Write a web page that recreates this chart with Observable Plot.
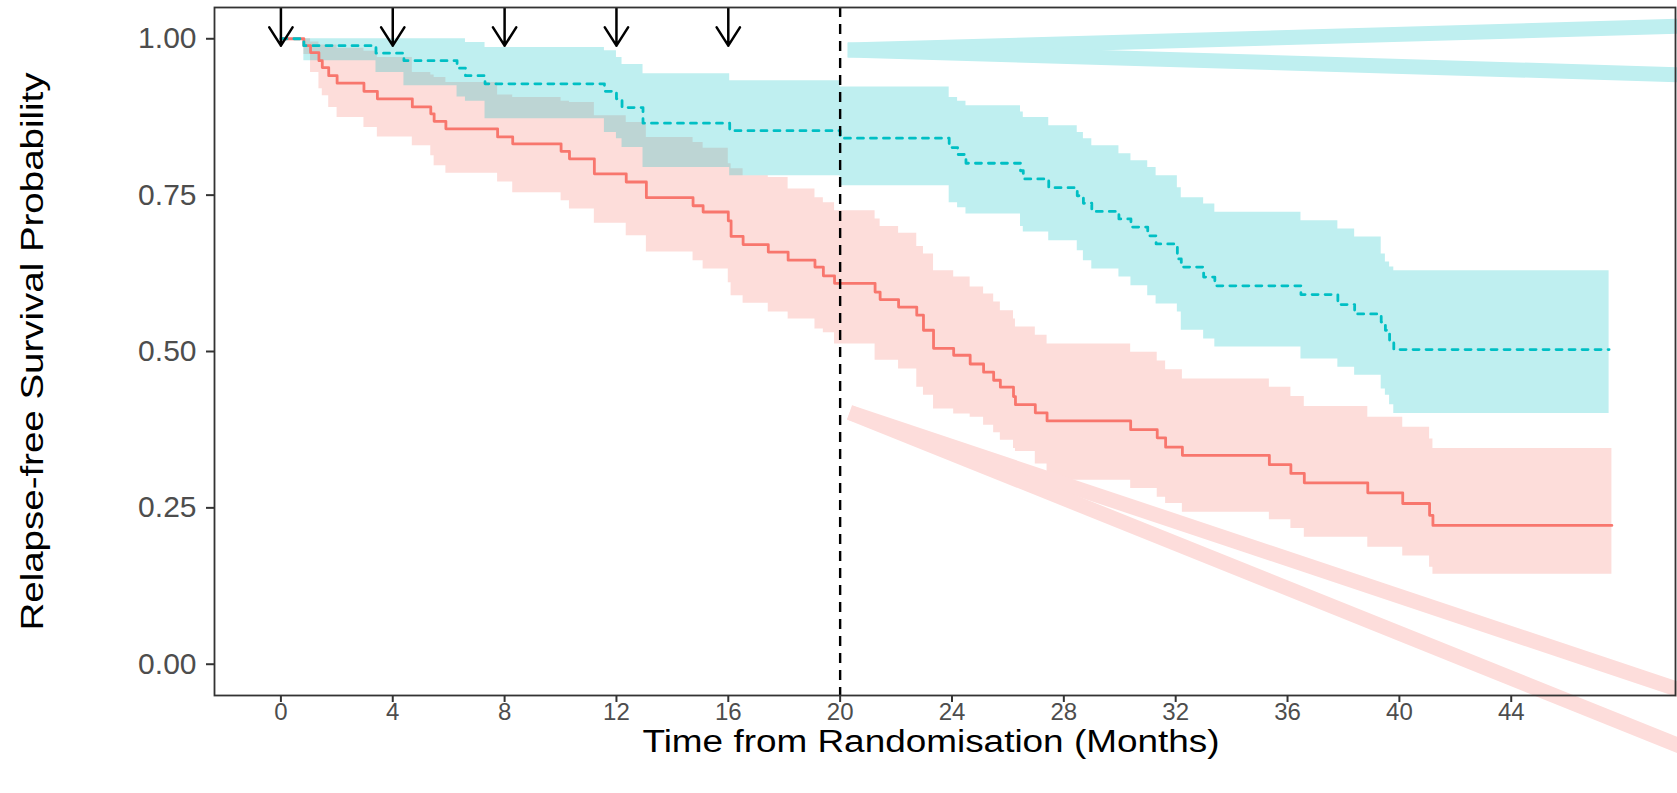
<!DOCTYPE html>
<html>
<head>
<meta charset="utf-8">
<script src="https://cdn.jsdelivr.net/npm/d3@7"></script>
<script src="https://cdn.jsdelivr.net/npm/@observablehq/plot@0.6"></script>
<style>
  html, body { margin: 0; padding: 0; background: #ffffff; }
  #chart { width: 1677px; height: 793px; overflow: hidden; }
</style>
</head>
<body>
<div id="chart"></div>
<script>
// ---- Group 1 (red, solid) : Kaplan–Meier steps and confidence band ----
const redTime  = [0, 0.82, 1.06, 1.36, 1.48, 1.71, 2.01, 2.97, 3.45, 4.70,
                  5.36, 5.48, 5.90, 7.75, 8.29, 10.02, 10.32, 11.21, 12.35, 13.07,
                  14.74, 15.10, 16.00, 16.10, 16.53, 17.43, 18.14, 19.10, 19.40, 19.80,
                  21.25, 21.43, 22.09, 22.74, 22.98, 23.34, 24.06, 24.65, 25.13, 25.49,
                  25.73, 26.20, 26.27, 26.98, 27.40, 30.39, 31.34, 31.64, 32.24, 35.35,
                  36.12, 36.60, 38.87, 40.12, 41.08, 41.20, 47.60];
const redSurv  = [1, .989, .978, .965, .954, .941, .929, .916, .904, .891,
                  .880, .868, .856, .843, .832, .820, .808, .784, .771, .746,
                  .733, .723, .709, .684, .671, .659, .646, .635, .621, .609,
                  .595, .583, .571, .558, .534, .505, .494, .480, .467, .454,
                  .443, .428, .415, .402, .389, .375, .362, .347, .334, .319,
                  .305, .290, .274, .257, .238, .222, .222];
const redLower = [1, .975, .946, .920, .909, .890, .874, .858, .843, .829,
                  .813, .797, .785, .771, .754, .741, .728, .705, .685, .659,
                  .645, .632, .610, .589, .577, .563, .552, .536, .530, .512,
                  .486, .486, .472, .443, .430, .408, .400, .395, .382, .370,
                  .358, .345, .340, .320, .294, .281, .267, .257, .243, .231,
                  .217, .203, .187, .173, .155, .144, .144];
const redUpper = [1, 1, .995, .99, .99, .99, .985, .98, .97, .946,
                  .942, .938, .93, .91, .906, .90, .898, .877, .866, .842,
                  .834, .825, .80, .792, .781, .778, .760, .746, .738, .725,
                  .712, .700, .689, .668, .656, .629, .619, .603, .592, .579,
                  .565, .552, .539, .526, .512, .499, .485, .471, .456, .443,
                  .428, .412, .395, .379, .36, .345, .345];

// ---- Group 2 (cyan, dashed) ----
const cyanTime  = [0, 0.82, 3.40, 4.40, 6.30, 6.60, 7.30, 11.57, 12.00, 12.20,
                   12.95, 16.05, 20.00, 23.90, 24.20, 24.50, 26.45, 26.55, 27.46, 28.48,
                   28.70, 29.00, 29.97, 30.40, 31.00, 31.30, 32.06, 32.20, 33.00, 33.40,
                   36.48, 37.80, 38.40, 39.35, 39.50, 39.65, 39.80, 47.50];
const cyanSurv  = [1, .989, .977, .965, .953, .941, .928, .916, .904, .890,
                   .865, .853, .841, .826, .815, .801, .789, .776, .762, .749,
                   .737, .724, .712, .699, .685, .672, .648, .635, .619, .605,
                   .591, .575, .560, .547, .534, .518, .503, .503];
const cyanLower = [1, .965, .946, .925, .907, .90, .872, .85, .84, .826,
                   .794, .781, .765, .738, .730, .720, .700, .691, .677, .661,
                   .645, .632, .619, .605, .589, .576, .563, .534, .520, .507,
                   .488, .475, .462, .44, .43, .415, .401, .401];
const cyanUpper = [1, 1, 1, 1, 1, .994, .986, .981, .970, .959,
                   .944, .933, .923, .906, .90, .893, .883, .874, .861, .850,
                   .840, .829, .816, .805, .794, .781, .762, .746, .736, .7226,
                   .709, .696, .683, .656, .643, .635, .629, .629];

// ---- Annotations ----
const arrowMonths = [0, 4, 8, 12, 16];
const landmarkMonth = [20];
const xTicks = [0, 4, 8, 12, 16, 20, 24, 28, 32, 36, 40, 44];
const yTicks = [0, 0.25, 0.5, 0.75, 1];
const xLabel = "Time from Randomisation (Months)";
const yLabel = "Relapse-free Survival Probability";

// stray legend-key strokes (start month/prob -> end month/prob)
const keyGroup = ["cyan", "cyan", "red", "red"];
const keyX1 = [20.27, 20.27, 20.34, 20.34];
const keyY1 = [0.982, 0.982, 0.4026, 0.4026];
const keyX2 = [50.05, 50.05, 50.05, 50.05];
const keyY2 = [1.020, 0.9425, -0.0415, -0.131];

// ---- build tables ----
const rows = [];
redTime.forEach((t, i) => rows.push({group: "red", time: t, surv: redSurv[i], lower: redLower[i], upper: redUpper[i]}));
cyanTime.forEach((t, i) => rows.push({group: "cyan", time: t, surv: cyanSurv[i], lower: cyanLower[i], upper: cyanUpper[i]}));
const redRows = rows.filter(d => d.group === "red");
const cyanRows = rows.filter(d => d.group === "cyan");
const keys = keyGroup.map((g, i) => ({group: g, x1: keyX1[i], y1: keyY1[i], x2: keyX2[i], y2: keyY2[i]}));

const RED = "#F8766D", CYAN = "#00BFC4";
const RED_FILL = "#FDDDDB", CYAN_FILL = "#BFEFF0";

const chart = Plot.plot({
  width: 1677,
  height: 793,
  marginLeft: 214,
  marginRight: 2,
  marginTop: 7,
  marginBottom: 98,
  style: {fontFamily: "'Liberation Sans', Arial, sans-serif", background: "#ffffff", overflow: "hidden"},
  x: {domain: [-2.375, 49.875]},
  y: {domain: [-0.05, 1.05]},
  marks: [
    Plot.areaY(redRows, {x: "time", y1: "lower", y2: "upper", curve: "step-after", fill: RED, fillOpacity: 0.25}),
    Plot.areaY(cyanRows, {x: "time", y1: "lower", y2: "upper", curve: "step-after", fill: CYAN, fillOpacity: 0.25}),
    Plot.link(keys.filter(d => d.group === "cyan"), {x1: "x1", y1: "y1", x2: "x2", y2: "y2", stroke: CYAN_FILL, strokeWidth: 15, strokeLinecap: "butt"}),
    Plot.link(keys.filter(d => d.group === "red"), {x1: "x1", y1: "y1", x2: "x2", y2: "y2", stroke: RED_FILL, strokeWidth: 15, strokeLinecap: "butt"}),
    Plot.line(redRows, {x: "time", y: "surv", curve: "step-after", stroke: RED, strokeWidth: 2.8}),
    Plot.line(cyanRows, {x: "time", y: "surv", curve: "step-after", stroke: CYAN, strokeWidth: 2.8, strokeDasharray: "6,7"}),
    Plot.ruleX(landmarkMonth, {stroke: "#000", strokeWidth: 2.4, strokeDasharray: "10,7"}),
    Plot.arrow(arrowMonths, {x: d => d, y1: 1.3, y2: 0.989, stroke: "#000", strokeWidth: 2.5, headLength: 13, headAngle: 65, clip: "frame"}),
    Plot.frame({stroke: "#333333", strokeWidth: 1.8}),
    Plot.axisX(xTicks, {tickSize: 7, tickPadding: 0, fontSize: 24, stroke: "#333333", strokeWidth: 2, fill: "#4D4D4D", label: null}),
    Plot.axisY(yTicks, {tickSize: 8, tickPadding: 10, fontSize: 30, stroke: "#333333", strokeWidth: 2, fill: "#4D4D4D", tickFormat: d3.format(".2f"), label: null}),
    Plot.text([xLabel], {frameAnchor: "bottom", lineAnchor: "middle", textAnchor: "middle", dy: 47, dx: -14, fontSize: 31, fill: "#000"}),
    Plot.text([yLabel], {frameAnchor: "left", lineAnchor: "middle", textAnchor: "middle", dx: -181, rotate: -90, fontSize: 31, fill: "#000"})
  ]
});
// fit the two axis titles to the widths they span in the original figure
d3.select(chart).selectAll("text")
  .filter(function () { return this.textContent === xLabel; })
  .attr("textLength", 577).attr("lengthAdjust", "spacingAndGlyphs");
d3.select(chart).selectAll("text")
  .filter(function () { return this.textContent === yLabel; })
  .attr("textLength", 558).attr("lengthAdjust", "spacingAndGlyphs");
document.getElementById("chart").appendChild(chart);
</script>
</body>
</html>
